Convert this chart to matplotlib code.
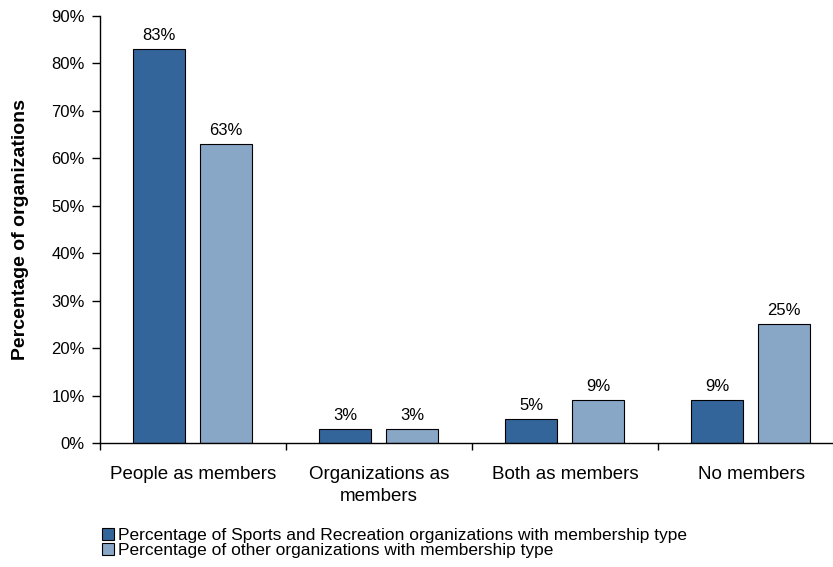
import numpy as np
import matplotlib.pyplot as plt
from matplotlib.patches import Patch

# --- datos ---
categorias = ['People as members', 'Organizations as\nmembers', 'Both as members', 'No members']
deportes = [83, 3, 5, 9]
otras = [63, 3, 9, 25]
series = ['Percentage of Sports and Recreation organizations with membership type',
          'Percentage of other organizations with membership type']

COLOR_OSCURO = '#34659a'
COLOR_CLARO = '#88a6c5'

plt.rcParams['font.family'] = ['Liberation Sans', 'DejaVu Sans']

fig = plt.figure(figsize=(8.33, 5.67), dpi=100)
# el eje horizontal continúa más allá del borde derecho
ax = fig.add_axes([100 / 833, 124 / 567, 744 / 833, 427 / 567])

x = np.arange(len(categorias))
ancho = 0.28
b1 = ax.bar(x + 0.317, deportes, width=ancho, color=COLOR_OSCURO, edgecolor='black', linewidth=0.8)
b2 = ax.bar(x + 0.677, otras, width=ancho, color=COLOR_CLARO, edgecolor='black', linewidth=0.8)

for barras, vals in ((b1, deportes), (b2, otras)):
    for b, v in zip(barras, vals):
        ax.text(b.get_x() + b.get_width() / 2, v + 1.3, f'{v}%',
                ha='center', va='bottom', fontsize=12)

ax.set_xlim(0, len(categorias))
ax.set_ylim(0, 90)
ax.set_yticks(np.arange(0, 91, 10))
ax.set_yticklabels([f'{v}%' for v in range(0, 91, 10)], fontsize=12)
ax.set_xticks(np.arange(len(categorias) + 1))
ax.set_xticklabels([])
ax.tick_params(axis='x', direction='out', length=5, width=1)
ax.tick_params(axis='y', direction='out', length=6, width=1, pad=5)
for i, c in enumerate(categorias):
    ax.text(i + 0.5, -4.9, c, ha='center', va='top', fontsize=13.5, linespacing=1.35)

ax.set_ylabel('Percentage of organizations', fontsize=14, fontweight='bold', labelpad=16)
ax.spines['top'].set_visible(False)
ax.spines['right'].set_visible(False)
ax.spines['left'].set_linewidth(1)
ax.spines['bottom'].set_linewidth(1)

handles = [Patch(facecolor=COLOR_OSCURO, edgecolor='black', linewidth=0.8),
           Patch(facecolor=COLOR_CLARO, edgecolor='black', linewidth=0.8)]
fig.legend(handles, series, loc='upper left', bbox_to_anchor=(102 / 833, 1 - 528 / 567),
           frameon=False, fontsize=12.5, handlelength=0.7, handleheight=0.7,
           handletextpad=0.25, labelspacing=0.0, borderpad=0, borderaxespad=0)

fig.savefig('out.png', dpi=100)
